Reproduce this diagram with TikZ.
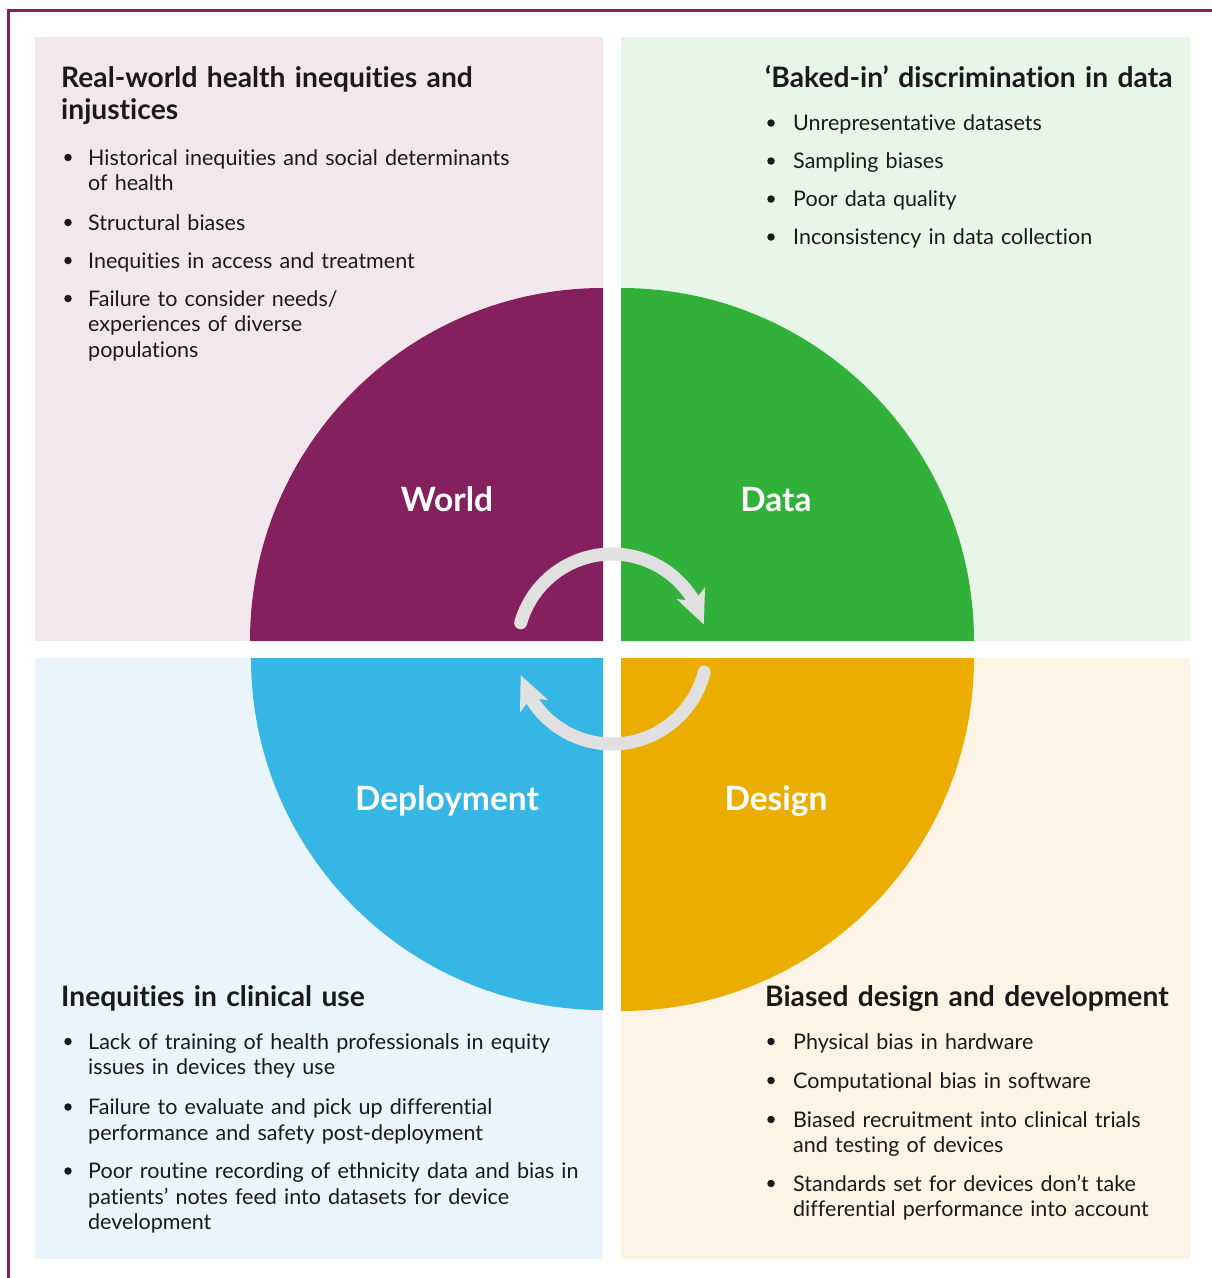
\documentclass[tikz,border=0pt]{standalone}
\usepackage{fontspec}
\setmainfont{Lato}[Ligatures=NoCommon]
\usetikzlibrary{positioning,arrows.meta,bending}

\definecolor{ink}{HTML}{1A1A1A}
\definecolor{worldc}{HTML}{85205E}
\definecolor{datac}{HTML}{31B13A}
\definecolor{deployc}{HTML}{35B6E4}
\definecolor{designc}{HTML}{EBAE00}
\definecolor{worldbg}{HTML}{F2E7ED}
\definecolor{databg}{HTML}{E8F6EA}
\definecolor{deploybg}{HTML}{EAF4FB}
\definecolor{designbg}{HTML}{FDF4E6}
\definecolor{cyclec}{HTML}{E0E0E0}

\tikzset{
  panel/.style={fill=#1, draw=none},
  quarter/.style={fill=#1, draw=none},
  heading/.style={anchor=base west, inner sep=0pt, text width=540pt, align=left,
    font=\fontsize{28.2}{32.5}\selectfont\bfseries, text=ink},
  point/.style={anchor=base west, inner sep=0pt, text width=520pt, align=left,
    font=\fontsize{21.5}{25.5}\selectfont, text=ink},
  dot/.style={circle, fill=ink, inner sep=0pt, minimum size=7.5pt},
  stage/.style={anchor=base, inner sep=0pt, text=white,
    font=\fontsize{33.5}{36}\selectfont\bfseries},
  turn/.style={draw=cyclec, line width=13pt, line cap=round,
    -{Stealth[length=34pt, width=31pt, inset=9pt, line width=0pt]}}
}

\begin{document}
\begin{tikzpicture}[x=1pt, y=-1pt]
\useasboundingbox (0,0) rectangle (1212,1278);
\fill[white] (0,0) rectangle (1212,1278);

% frame
\draw[worldc, line width=2.5pt] (1212,10.5) -- (8.7,10.5) -- (8.7,1278);

% panels
\fill[panel=worldbg]  (35,37)   rectangle (603,641);
\fill[panel=databg]   (621,37)  rectangle (1190,641);
\fill[panel=deploybg] (35,658)  rectangle (603,1259);
\fill[panel=designbg] (621,658) rectangle (1190,1259);

% quarters of the wheel
\fill[quarter=worldc]  (603,641) -- ++(-353,0) arc[start angle=180, end angle=270, radius=353] -- cycle;
\fill[quarter=datac]   (621,641) -- ++(0,-353) arc[start angle=270, end angle=360, radius=353] -- cycle;
\fill[quarter=deployc] (603,658) -- ++(0,352) arc[start angle=90, end angle=180, radius=352] -- cycle;
\fill[quarter=designc] (621,658) -- ++(353,0) arc[start angle=0, end angle=90, radius=353] -- cycle;

\node[stage] (world)  at (447,511.5) {World};
\node[stage] (data)   at (776,511.5) {Data};
\node[stage] (deploy) at (447,810.5) {Deployment};
\node[stage] (design) at (776,810.5) {Design};

% cycle arrows
\coordinate (hub) at (612,649);
\draw[turn] (hub) ++(196:95) arc[start angle=196, end angle=345, radius=95];
\draw[turn] (hub) ++(14:95) arc[start angle=14, end angle=164, radius=95];

% world
\node[heading] (wh) at (61,87) {Real-world health inequities and\\injustices};
\foreach \n/\yb/\txt in {1/165/{Historical inequities and social determinants\\of health},
    2/230/{Structural biases}, 3/268/{Inequities in access and treatment},
    4/306/{Failure to consider needs/\\experiences of diverse\\populations}} {
  \node[dot] (wd\n) at (68,\yb-7.5) {};
  \node[point] (wt\n) at (88,\yb) {\txt};
}

% data
\node[heading] (dh) at (765,87) {‘Baked-in’ discrimination in data};
\foreach \n/\yb/\txt in {1/130.5/{Unrepresentative datasets}, 2/168.5/{Sampling biases},
    3/206.5/{Poor data quality}, 4/244.5/{Inconsistency in data collection}} {
  \node[dot] (dd\n) at (771,\yb-7.5) {};
  \node[point] (dt\n) at (793,\yb) {\txt};
}

% deployment
\node[heading] (ph) at (61,1006.5) {Inequities in clinical use};
\foreach \n/\yb/\txt in {1/1049/{Lack of training of health professionals in equity\\issues in devices they use},
    2/1114.5/{Failure to evaluate and pick up differential\\performance and safety post-deployment},
    3/1178.5/{Poor routine recording of ethnicity data and bias in\\patients’ notes feed into datasets for device\\development}} {
  \node[dot] (pd\n) at (68,\yb-7.5) {};
  \node[point] (pt\n) at (88,\yb) {\txt};
}

% design
\node[heading] (gh) at (765,1006.5) {Biased design and development};
\foreach \n/\yb/\txt in {1/1049/{Physical bias in hardware}, 2/1088/{Computational bias in software},
    3/1127/{Biased recruitment into clinical trials\\and testing of devices},
    4/1191/{Standards set for devices don’t take\\differential performance into account}} {
  \node[dot] (gd\n) at (771,\yb-7.5) {};
  \node[point] (gt\n) at (793,\yb) {\txt};
}
\end{tikzpicture}
\end{document}
